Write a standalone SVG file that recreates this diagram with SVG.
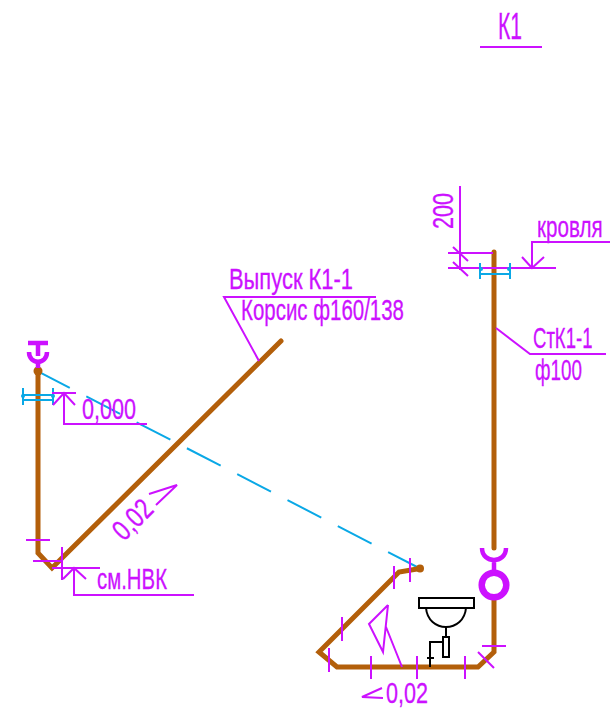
<svg xmlns="http://www.w3.org/2000/svg" width="610" height="709" viewBox="0 0 610 709">
<style>
.t{font-family:"Liberation Sans",Arial,sans-serif;font-size:29px;fill:#cc11ff;stroke:#cc11ff;stroke-width:.3}
.k{font-size:37px}
.r1{font-size:20px;stroke-width:.2}
.r2{font-size:18px;stroke-width:.2}
.m{fill:none;stroke:#cc11ff;stroke-width:2}
.mt{fill:none;stroke:#cc11ff;stroke-width:4.5}
.p{fill:none;stroke:#b35f0a;stroke-width:5;stroke-linejoin:miter;stroke-linecap:round}
.c{fill:none;stroke:#0aa8e6;stroke-width:2}
.cd{fill:#0aa8e6}
.b{fill:none;stroke:#000;stroke-width:2}
</style>
<rect width="610" height="709" fill="#fff"/>
<g id="connectors">
<path class="c" d="M36 370.4L420 568.5" stroke-dasharray="38 18.6"/>
<path class="p" d="M38 371V553L52 568L281 341"/>
<circle cx="38" cy="371" r="4.5" fill="#b35f0a"/>
<path class="p" d="M494 252V548"/>
<path class="p" d="M494 600V652L478 667H337L319 652L399 572L420 568.5"/>
<circle cx="420" cy="568.5" r="4" fill="#b35f0a"/>
</g>
<g id="title"><text class="t k" x="498" y="39" textLength="24" lengthAdjust="spacingAndGlyphs">К1</text><path class="m" d="M480 47H542"/></g>
<g id="roof-dim">
<path class="m" d="M460 186V270M448 253H493M448 268H556M453 247L468 261M453 262L468 276M532 268V242H610M522 257L532 268L544 257"/>
<path class="c" d="M480 263V279M510 263V279M480 274H510"/>
<circle class="cd" cx="481" cy="269" r="2"/><circle class="cd" cx="509" cy="269" r="2"/>
<text class="t r1" transform="translate(537 237) scale(1.03 1.45)" x="0" y="0">кровля</text>
<text class="t" transform="translate(453 229) rotate(-90)" x="0" y="0" textLength="36" lengthAdjust="spacingAndGlyphs">200</text>
</g>
<g id="riser-label">
<path class="m" d="M496 328L530 354H606"/>
<text class="t r2" transform="translate(533 348) scale(1.03 1.6)" x="0" y="0">СтК1-1</text>
<text class="t" x="535" y="380" textLength="47" lengthAdjust="spacingAndGlyphs">ф100</text>
</g>
<g id="socket-right">
<path class="mt" d="M482 548C482 564 506 564 506 548M494 559V572"/>
<circle cx="494" cy="585" r="12.3" fill="#fff" stroke="#cc11ff" stroke-width="6.5"/>
</g>
<g id="floor-ticks">
<path class="m" d="M394 566V589M410 558V582M342 617V641M329 648V672M371 656V679M417 656V679M465 656V679M482 646H506M478 652L494 668"/>
<path class="m" d="M388 605L369 624L383 652L388 605M386 627L402 667M382 688L362 697L383 698"/>
<text class="t" x="386" y="703" textLength="42" lengthAdjust="spacingAndGlyphs">0,02</text>
</g>
<g id="basin">
<rect x="419" y="598" width="55" height="10" class="b"/>
<path class="b" d="M426 608C427 620 436 627 446 627C456 627 465 620 466 608M446 627V637M443 637H449V657H443ZM443 642H430V667M427 658H434"/>
</g>
<g id="socket-left">
<path class="mt" d="M28 343H48M38 343V356M29 352C29 365 47 365 47 352M38 360V368"/>
</g>
<g id="level-0">
<path class="c" d="M23 388V405M53 388V405M23 395H53M23 400H53"/>
<circle class="cd" cx="23" cy="396" r="2"/><circle class="cd" cx="53" cy="396" r="2"/>
<path class="m" d="M52 393H76M53 405L64 393L75 405M64 393V424H147"/>
<text class="t" x="82" y="419" textLength="54" lengthAdjust="spacingAndGlyphs">0,000</text>
</g>
<g id="bottom-left">
<path class="m" d="M26 540H50M33 561H62M62 547V580M52 568H100M63 579L74 568L86 579M74 568V595H194"/>
<text class="t" x="97" y="589" textLength="70" lengthAdjust="spacingAndGlyphs">см.НВК</text>
</g>
<g id="slope-left">
<text class="t" transform="translate(124 542) rotate(-45)" x="0" y="0" textLength="44" lengthAdjust="spacingAndGlyphs">0,02</text>
<path class="m" d="M149 494L177 485L156 505"/>
</g>
<g id="outlet-label">
<path class="m" d="M259 361L224 297H376"/>
<text class="t" x="229" y="289" textLength="124" lengthAdjust="spacingAndGlyphs">Выпуск К1-1</text>
<text class="t" x="241" y="320" textLength="163" lengthAdjust="spacingAndGlyphs">Корсис ф160/138</text>
</g>
</svg>
